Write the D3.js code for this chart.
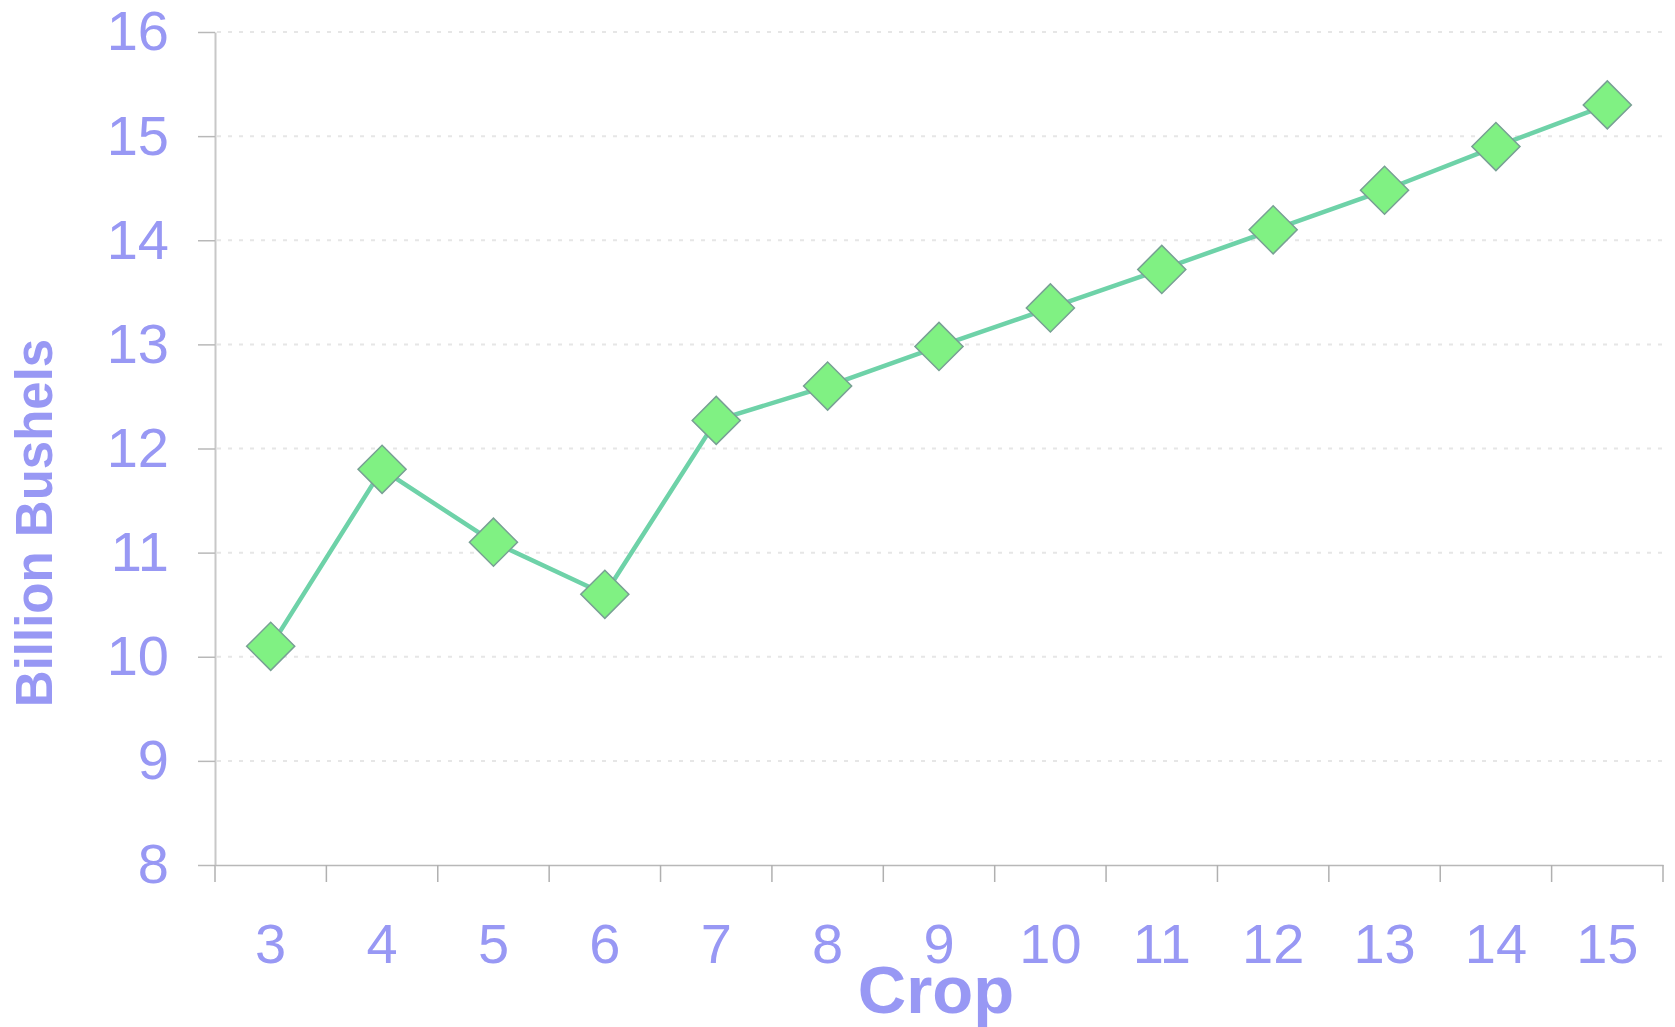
<!DOCTYPE html>
<html>
<head>
<meta charset="utf-8">
<script src="https://cdn.jsdelivr.net/npm/d3@7"></script>
<style>
  html, body { margin: 0; padding: 0; background: #fff; }
  svg { display: block; }
  text { font-family: "Liberation Sans", Arial, Helvetica, sans-serif; }
</style>
</head>
<body>
<svg id="chart" width="1675" height="1027"></svg>
<script>
// Crop number (categories) and production in billion bushels
const crops = ["3", "4", "5", "6", "7", "8", "9", "10", "11", "12", "13", "14", "15"];
const bushels = [10.1, 11.8, 11.1, 10.6, 12.27, 12.6, 12.98, 13.35, 13.72, 14.1, 14.48, 14.9, 15.3];
const yTicks = [8, 9, 10, 11, 12, 13, 14, 15, 16];

const labelColor = "#9898f4";
const axisColor = "#c8c8c8";

const svg = d3.select("#chart");
const plotLeft = 215, plotRight = 1663, plotTop = 32, plotBottom = 865;

const x = d3.scaleBand().domain(crops).range([plotLeft, plotRight]).padding(0);
const y = d3.scaleLinear().domain([8, 16]).range([plotBottom, plotTop]);

// dotted horizontal gridlines
svg.append("g")
  .selectAll("line")
  .data(yTicks.filter(d => d !== 8))
  .join("line")
  .attr("x1", plotLeft + 2).attr("x2", plotRight + 2)
  .attr("y1", d => y(d)).attr("y2", d => y(d))
  .attr("stroke", "#e6e6e6")
  .attr("stroke-width", 2)
  .attr("stroke-dasharray", "4,7");

// y axis
const yAxis = svg.append("g")
  .attr("transform", `translate(${plotLeft},0)`)
  .call(d3.axisLeft(y).tickValues(yTicks).tickSize(17).tickPadding(29).tickSizeOuter(0));
yAxis.select(".domain").attr("stroke", axisColor).attr("stroke-width", 2);
yAxis.selectAll(".tick line").attr("stroke", "#b8b8b8").attr("stroke-width", 1.5);
yAxis.selectAll(".tick text")
  .attr("fill", labelColor)
  .style("font-size", "56px");

// x axis: labels centred in bands, ticks on band boundaries
const xAxis = svg.append("g")
  .attr("transform", `translate(0,${plotBottom})`)
  .call(d3.axisBottom(x).tickSize(0).tickPadding(58).tickSizeOuter(0));
xAxis.select(".domain").attr("stroke", "#b8b8b8").attr("stroke-width", 1.5);
xAxis.selectAll(".tick text")
  .attr("fill", labelColor)
  .style("font-size", "56px");

const boundaries = crops.map(c => x(c)).concat([x.range()[1]]);
svg.append("g")
  .selectAll("line")
  .data(boundaries)
  .join("line")
  .attr("x1", d => d).attr("x2", d => d)
  .attr("y1", plotBottom).attr("y2", plotBottom + 17)
  .attr("stroke", "#b0b0b0")
  .attr("stroke-width", 1.5);

// series line
const cx = d => x(d) + x.bandwidth() / 2;
const line = d3.line()
  .x((d, i) => cx(crops[i]))
  .y(d => y(d));

svg.append("path")
  .datum(bushels)
  .attr("d", line)
  .attr("fill", "none")
  .attr("stroke", "#6ed2a8")
  .attr("stroke-width", 4.5)
  .attr("stroke-linejoin", "round");

// diamond markers
const diamond = d3.symbol().type(d3.symbolSquare).size(34 * 34);
svg.append("g")
  .selectAll("path")
  .data(bushels)
  .join("path")
  .attr("d", diamond)
  .attr("transform", (d, i) => `translate(${cx(crops[i])},${y(d)}) rotate(45)`)
  .attr("fill", "#80f183")
  .attr("stroke", "#78a094")
  .attr("stroke-width", 1.5);

// axis titles
svg.append("text")
  .attr("x", 936)
  .attr("y", 1013)
  .attr("text-anchor", "middle")
  .attr("fill", labelColor)
  .style("font-size", "67px")
  .style("font-weight", "bold")
  .text("Crop");

svg.append("text")
  .attr("transform", "translate(52,523) rotate(-90)")
  .attr("text-anchor", "middle")
  .attr("fill", labelColor)
  .style("font-size", "51px")
  .style("font-weight", "bold")
  .text("Billion Bushels");
</script>
</body>
</html>
